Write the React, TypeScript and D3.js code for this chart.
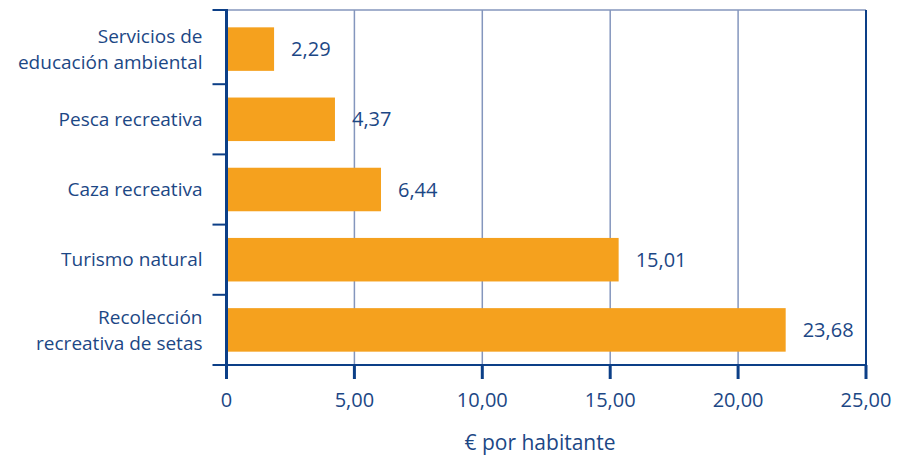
// @ts-nocheck
import { useEffect, useRef } from 'react'
import * as d3 from 'd3'

// categories top to bottom
const categories = [
  ['Servicios de', 'educación ambiental'],
  ['Pesca recreativa'],
  ['Caza recreativa'],
  ['Turismo natural'],
  ['Recolección', 'recreativa de setas'],
]
// printed labels
const labels = ['2,29', '4,37', '6,44', '15,01', '23,68']
// bar lengths as drawn in the original
const barValues = [1.86, 4.24, 6.04, 15.33, 21.86]
const xTicks = [0, 5, 10, 15, 20, 25]
const xTickLabels = ['0', '5,00', '10,00', '15,00', '20,00', '25,00']
const xTitle = '€ por habitante'

export default function App() {
  const svgRef = useRef<any>()
  const width = 899
  const height = 457
  const margin = { top: 10, left: 226.5, right: 33, bottom: 92 }

  useEffect(() => {
    const svg = d3.select(svgRef.current)
    svg.selectAll('*').remove()

    const textColor = '#1c4785'
    const axisColor = '#0c3f87'
    const gridColor = '#8496bd'
    const font = '"Open Sans", "Noto Sans", sans-serif'
    const fs = 20

    const x = d3.scaleLinear().domain([0, 25]).range([margin.left, width - margin.right])
    const y = d3
      .scaleBand()
      .domain(categories.map((_, i) => String(i)))
      .range([margin.top + 4, height - margin.bottom])
      .paddingInner(0.38)
      .paddingOuter(0.19)
    const bottom = height - margin.bottom

    // gridlines
    svg
      .append('g')
      .selectAll('line')
      .data(xTicks.slice(1, -1))
      .enter()
      .append('line')
      .attr('x1', (d) => x(d))
      .attr('x2', (d) => x(d))
      .attr('y1', margin.top)
      .attr('y2', bottom)
      .attr('stroke', gridColor)
      .attr('stroke-width', 1.5)

    // top border
    svg
      .append('line')
      .attr('x1', x(0))
      .attr('x2', x(25))
      .attr('y1', margin.top)
      .attr('y2', margin.top)
      .attr('stroke', gridColor)
      .attr('stroke-width', 1.5)

    // right border
    svg
      .append('line')
      .attr('x1', x(25))
      .attr('x2', x(25))
      .attr('y1', margin.top)
      .attr('y2', bottom + 14)
      .attr('stroke', axisColor)
      .attr('stroke-width', 2)

    // bars
    svg
      .append('g')
      .selectAll('rect')
      .data(barValues)
      .enter()
      .append('rect')
      .attr('x', x(0))
      .attr('y', (_, i) => y(String(i)))
      .attr('width', (d) => x(d) - x(0))
      .attr('height', y.bandwidth())
      .attr('fill', '#f5a11e')

    // value labels
    svg
      .append('g')
      .selectAll('text')
      .data(barValues)
      .enter()
      .append('text')
      .attr('x', (d) => x(d) + 17)
      .attr('y', (_, i) => y(String(i)) + y.bandwidth() / 2)
      .attr('dy', '0.35em')
      .attr('fill', textColor)
      .attr('font-family', font)
      .attr('font-size', fs)
      .text((_, i) => labels[i])

    // bottom axis
    svg
      .append('line')
      .attr('x1', x(0) - 14)
      .attr('x2', x(25))
      .attr('y1', bottom)
      .attr('y2', bottom)
      .attr('stroke', axisColor)
      .attr('stroke-width', 2)

    svg
      .append('g')
      .selectAll('line')
      .data(xTicks)
      .enter()
      .append('line')
      .attr('x1', (d) => x(d))
      .attr('x2', (d) => x(d))
      .attr('y1', bottom)
      .attr('y2', bottom + 14)
      .attr('stroke', axisColor)
      .attr('stroke-width', 3)

    svg
      .append('g')
      .selectAll('text')
      .data(xTicks)
      .enter()
      .append('text')
      .attr('x', (d) => x(d))
      .attr('y', bottom + 42)
      .attr('text-anchor', 'middle')
      .attr('fill', textColor)
      .attr('font-family', font)
      .attr('font-size', fs)
      .text((_, i) => xTickLabels[i])

    svg
      .append('text')
      .attr('x', 540)
      .attr('y', bottom + 85)
      .attr('text-anchor', 'middle')
      .attr('fill', textColor)
      .attr('font-family', font)
      .attr('font-size', fs + 1)
      .text(xTitle)

    // left axis
    svg
      .append('line')
      .attr('x1', x(0))
      .attr('x2', x(0))
      .attr('y1', margin.top - 1)
      .attr('y2', bottom + 14)
      .attr('stroke', axisColor)
      .attr('stroke-width', 3)

    const step = y.step()
    const boundaries = categories.map((_, i) => y(String(i)) - (step - y.bandwidth()) / 2)
    svg
      .append('g')
      .selectAll('line')
      .data([margin.top, ...boundaries.slice(1)])
      .enter()
      .append('line')
      .attr('x1', x(0) - 14)
      .attr('x2', x(0))
      .attr('y1', (d) => d)
      .attr('y2', (d) => d)
      .attr('stroke', axisColor)
      .attr('stroke-width', 2)

    // category labels, one text per line
    const lh = 26
    categories.forEach((lines, i) => {
      const cy = y(String(i)) + y.bandwidth() / 2
      const y0 = cy - ((lines.length - 1) * lh) / 2
      lines.forEach((line, j) => {
        svg
          .append('text')
          .attr('x', x(0) - 24)
          .attr('y', y0 + j * lh)
          .attr('dy', '0.35em')
          .attr('text-anchor', 'end')
          .attr('fill', textColor)
          .attr('font-family', font)
          .attr('font-size', 19)
          .text(line)
      })
    })
  }, [])

  return (
    <svg
      ref={svgRef}
      width={width}
      height={height}
      style={{ position: 'absolute', left: 0, top: 0, background: '#fff' }}
    ></svg>
  )
}
